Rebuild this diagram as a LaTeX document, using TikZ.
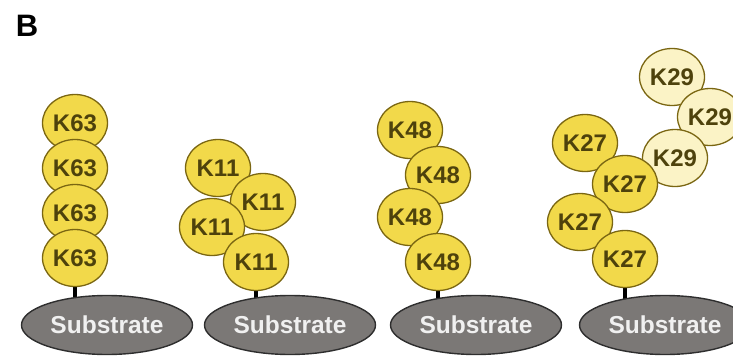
\documentclass[tikz,border=0pt]{standalone}
\usepackage{fontspec}
\setmainfont{Liberation Sans}
\usetikzlibrary{shapes.geometric,backgrounds}
\definecolor{ubfill}{HTML}{F2D94A}
\definecolor{ubpale}{HTML}{FBF3C6}
\definecolor{ubline}{HTML}{7A6612}
\definecolor{ubtext}{HTML}{4E420C}
\definecolor{subfill}{HTML}{7B7876}
\definecolor{subline}{HTML}{2E2E2E}
\begin{document}
\begin{tikzpicture}[x=1pt,y=-1pt,
  ub/.style={ellipse,draw=ubline,fill=ubfill,line width=1.3pt,
    minimum width=65pt,minimum height=57pt,inner sep=0pt,
    text=ubtext,font=\fontsize{24}{24}\selectfont\bfseries},
  ubp/.style={ub,fill=ubpale},
  substrate/.style={ellipse,draw=subline,fill=subfill,line width=1.4pt,
    minimum width=171pt,minimum height=59pt,inner sep=0pt,
    text=white!94!black,font=\fontsize{24.5}{24.5}\selectfont\bfseries},
  stem/.style={line width=4pt,black}]
\useasboundingbox (0,0) rectangle (733,361);
\clip (0,0) rectangle (733,361);

\node[font=\fontsize{31}{31}\selectfont\bfseries] (label) at (27,26) {B};

% substrates
\node[substrate] (s1) at (107,325) {Substrate};
\node[substrate] (s2) at (290,325) {Substrate};
\node[substrate] (s3) at (476,325) {Substrate};
\node[substrate] (s4) at (665,325) {Substrate};

% K63 chain: straight stack
\node[ub] (a1) at (75,123) {K63};
\node[ub] (a2) at (75,168) {K63};
\node[ub] (a3) at (75,213) {K63};
\node[ub] (a4) at (75,258) {K63};

% K11 chain: compact zig-zag
\node[ub] (b1) at (218,168) {K11};
\node[ub] (b2) at (263,202) {K11};
\node[ub] (b3) at (212,227) {K11};
\node[ub] (b4) at (256,262) {K11};

% K48 chain: zig-zag
\node[ub] (c1) at (410,130) {K48};
\node[ub] (c2) at (438,175) {K48};
\node[ub] (c3) at (410,217) {K48};
\node[ub] (c4) at (438,262) {K48};

% branched K27 chain carrying a K29 branch
\node[ubp] (e1) at (672,77) {K29};
\node[ubp] (e2) at (710,117) {K29};
\node[ubp] (e3) at (675,158) {K29};
\node[ub] (d1) at (585,143) {K27};
\node[ub] (d2) at (625,184) {K27};
\node[ub] (d3) at (580,222) {K27};
\node[ub] (d4) at (625,259) {K27};

% linkers from the proximal ubiquitin to the substrate
\begin{scope}[on background layer]
  \draw[stem] (a4.center) -- (a4.center |- s1.center);
  \draw[stem] (b4.center) -- (b4.center |- s2.center);
  \draw[stem] (c4.center) -- (c4.center |- s3.center);
  \draw[stem] (d4.center) -- (d4.center |- s4.center);
\end{scope}
\end{tikzpicture}
\end{document}
